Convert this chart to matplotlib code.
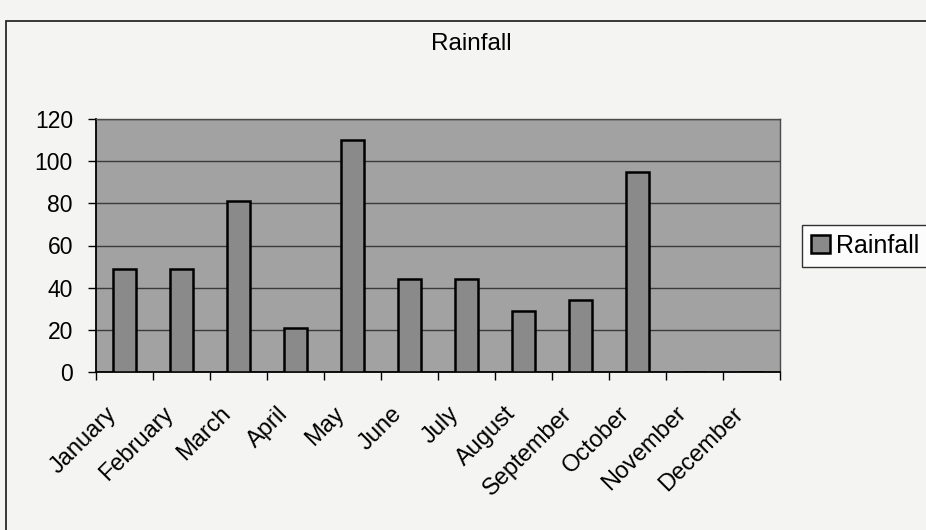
import matplotlib.pyplot as plt
import matplotlib.transforms as mtrans
import numpy as np

months = ['January', 'February', 'March', 'April', 'May', 'June', 'July',
          'August', 'September', 'October', 'November', 'December']
rainfall = [49, 49, 81, 21, 110, 44, 44, 29, 34, 95, 0, 0]
yticks = [0, 20, 40, 60, 80, 100, 120]

plt.rcParams['font.family'] = ['Liberation Sans', 'DejaVu Sans']

W, H = 926, 530
fig = plt.figure(figsize=(W / 100, H / 100), dpi=100, facecolor='#f4f4f2')
# outer chart frame (right and bottom run off the page)
fig.patches.append(plt.Rectangle((6 / W, -0.1), 1.0, (H - 21) / H + 0.1,
                                 transform=fig.transFigure, fill=False,
                                 edgecolor='#2a2a2a', linewidth=1.3))

ax = fig.add_axes([96 / W, (H - 372) / H, (780 - 96) / W, (372 - 119) / H])
ax.set_facecolor('#a2a2a2')

x = np.arange(len(months))
ax.bar(x, rainfall, width=0.4, color='#8a8a8a', edgecolor='black',
       linewidth=1.8, label='Rainfall', zorder=3)

ax.set_ylim(0, 120)
ax.set_xlim(-0.5, len(months) - 0.5)
ax.set_yticks(yticks)
ax.tick_params(axis='y', labelsize=16.5, length=5.8, direction='out', width=1,
               pad=10.8)
ax.grid(axis='y', color='#3a3a3a', linewidth=1.0, zorder=1)

ax.set_xticks(np.arange(len(months) + 1) - 0.5)
ax.set_xticklabels([])
ax.set_xticks(x, minor=True)
ax.set_xticklabels(months, minor=True, rotation=45, ha='right',
                   rotation_mode='anchor', fontsize=17)
ax.tick_params(axis='x', which='major', length=5.8, width=1)
ax.tick_params(axis='x', which='minor', length=0, pad=22)
shift = mtrans.ScaledTranslation(-19 / 100, 0, fig.dpi_scale_trans)
for lab in ax.get_xticklabels(minor=True):
    lab.set_transform(lab.get_transform() + shift)

for s in ['left', 'bottom']:
    ax.spines[s].set_color('black')
    ax.spines[s].set_linewidth(1.3)
for s in ['top', 'right']:
    ax.spines[s].set_color('#4a4a4a')
    ax.spines[s].set_linewidth(1.0)

fig.text(471 / W, 1 - 44 / H, 'Rainfall', ha='center', va='center',
         fontsize=17.5)

leg = fig.legend(loc='center left', bbox_to_anchor=(802 / W, 1 - 246 / H),
                 fontsize=18, frameon=True, fancybox=False, edgecolor='black',
                 facecolor='white', handlelength=0.75, handleheight=0.75,
                 handletextpad=0.25, borderpad=0.35, borderaxespad=0)
leg.get_frame().set_linewidth(1.0)

fig.savefig('out.png', dpi=100, facecolor=fig.get_facecolor())
